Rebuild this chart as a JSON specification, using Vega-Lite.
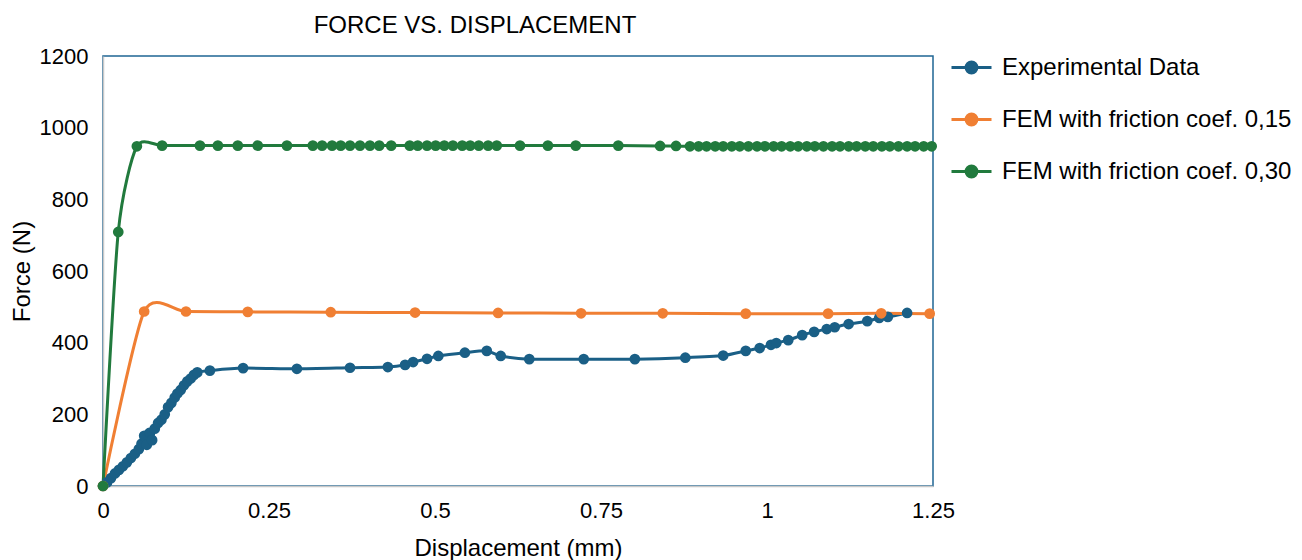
{
  "$schema": "https://vega.github.io/schema/vega-lite/v6.json",
  "width": 830,
  "height": 430,
  "autosize": {"type": "none"},
  "padding": {"left": 103, "top": 56, "right": 369, "bottom": 74},
  "background": "white",
  "config": {
    "font": "Liberation Sans",
    "view": {"stroke": "#1f6594", "strokeWidth": 1.5},
    "axis": {"grid": false, "ticks": false, "domainColor": "#c8c8c8", "domainWidth": 1.5, "labelColor": "#000000", "titleColor": "#000000", "titleFontWeight": "normal", "labelFontSize": 22, "titleFontSize": 24, "labelFont": "Liberation Sans", "titleFont": "Liberation Sans"}
  },
  "title": {"text": "FORCE VS. DISPLACEMENT", "anchor": "middle", "dx": -43, "offset": 7, "fontSize": 24, "fontWeight": "normal", "font": "Liberation Sans", "color": "#000000"},
  "data": {"values": [
    {"series": "Experimental Data", "x": 0, "y": 0},
    {"series": "Experimental Data", "x": 0.006, "y": 10},
    {"series": "Experimental Data", "x": 0.012, "y": 22},
    {"series": "Experimental Data", "x": 0.018, "y": 35},
    {"series": "Experimental Data", "x": 0.024, "y": 45},
    {"series": "Experimental Data", "x": 0.03, "y": 55},
    {"series": "Experimental Data", "x": 0.036, "y": 66},
    {"series": "Experimental Data", "x": 0.042, "y": 78},
    {"series": "Experimental Data", "x": 0.048, "y": 90},
    {"series": "Experimental Data", "x": 0.054, "y": 103},
    {"series": "Experimental Data", "x": 0.058, "y": 118},
    {"series": "Experimental Data", "x": 0.062, "y": 140},
    {"series": "Experimental Data", "x": 0.066, "y": 115},
    {"series": "Experimental Data", "x": 0.07, "y": 148},
    {"series": "Experimental Data", "x": 0.074, "y": 128},
    {"series": "Experimental Data", "x": 0.078, "y": 160},
    {"series": "Experimental Data", "x": 0.083, "y": 176},
    {"series": "Experimental Data", "x": 0.088, "y": 185},
    {"series": "Experimental Data", "x": 0.093, "y": 200},
    {"series": "Experimental Data", "x": 0.098, "y": 220},
    {"series": "Experimental Data", "x": 0.103, "y": 232},
    {"series": "Experimental Data", "x": 0.108, "y": 247},
    {"series": "Experimental Data", "x": 0.112, "y": 258},
    {"series": "Experimental Data", "x": 0.117, "y": 268},
    {"series": "Experimental Data", "x": 0.122, "y": 281},
    {"series": "Experimental Data", "x": 0.127, "y": 292},
    {"series": "Experimental Data", "x": 0.132, "y": 300},
    {"series": "Experimental Data", "x": 0.137, "y": 310},
    {"series": "Experimental Data", "x": 0.142, "y": 317},
    {"series": "Experimental Data", "x": 0.161, "y": 322},
    {"series": "Experimental Data", "x": 0.211, "y": 329},
    {"series": "Experimental Data", "x": 0.292, "y": 327},
    {"series": "Experimental Data", "x": 0.372, "y": 330},
    {"series": "Experimental Data", "x": 0.429, "y": 332},
    {"series": "Experimental Data", "x": 0.455, "y": 338},
    {"series": "Experimental Data", "x": 0.467, "y": 346},
    {"series": "Experimental Data", "x": 0.488, "y": 355},
    {"series": "Experimental Data", "x": 0.505, "y": 363},
    {"series": "Experimental Data", "x": 0.545, "y": 372},
    {"series": "Experimental Data", "x": 0.578, "y": 377},
    {"series": "Experimental Data", "x": 0.599, "y": 363},
    {"series": "Experimental Data", "x": 0.642, "y": 354},
    {"series": "Experimental Data", "x": 0.724, "y": 354},
    {"series": "Experimental Data", "x": 0.801, "y": 354},
    {"series": "Experimental Data", "x": 0.877, "y": 358},
    {"series": "Experimental Data", "x": 0.934, "y": 364},
    {"series": "Experimental Data", "x": 0.968, "y": 377},
    {"series": "Experimental Data", "x": 0.989, "y": 385},
    {"series": "Experimental Data", "x": 1.006, "y": 394},
    {"series": "Experimental Data", "x": 1.014, "y": 399},
    {"series": "Experimental Data", "x": 1.032, "y": 407},
    {"series": "Experimental Data", "x": 1.053, "y": 421},
    {"series": "Experimental Data", "x": 1.071, "y": 430},
    {"series": "Experimental Data", "x": 1.09, "y": 438},
    {"series": "Experimental Data", "x": 1.102, "y": 443},
    {"series": "Experimental Data", "x": 1.123, "y": 452},
    {"series": "Experimental Data", "x": 1.151, "y": 460},
    {"series": "Experimental Data", "x": 1.169, "y": 469},
    {"series": "Experimental Data", "x": 1.182, "y": 472},
    {"series": "Experimental Data", "x": 1.211, "y": 483},
    {"series": "FEM with friction coef. 0,15", "x": 0, "y": 0},
    {"series": "FEM with friction coef. 0,15", "x": 0.062, "y": 487},
    {"series": "FEM with friction coef. 0,15", "x": 0.125, "y": 487},
    {"series": "FEM with friction coef. 0,15", "x": 0.218, "y": 486},
    {"series": "FEM with friction coef. 0,15", "x": 0.343, "y": 485},
    {"series": "FEM with friction coef. 0,15", "x": 0.47, "y": 484},
    {"series": "FEM with friction coef. 0,15", "x": 0.595, "y": 483},
    {"series": "FEM with friction coef. 0,15", "x": 0.72, "y": 482},
    {"series": "FEM with friction coef. 0,15", "x": 0.843, "y": 482},
    {"series": "FEM with friction coef. 0,15", "x": 0.968, "y": 481},
    {"series": "FEM with friction coef. 0,15", "x": 1.092, "y": 481},
    {"series": "FEM with friction coef. 0,15", "x": 1.172, "y": 482},
    {"series": "FEM with friction coef. 0,15", "x": 1.245, "y": 481},
    {"series": "FEM with friction coef. 0,30", "x": 0, "y": 0},
    {"series": "FEM with friction coef. 0,30", "x": 0.023, "y": 709},
    {"series": "FEM with friction coef. 0,30", "x": 0.051, "y": 948},
    {"series": "FEM with friction coef. 0,30", "x": 0.089, "y": 950},
    {"series": "FEM with friction coef. 0,30", "x": 0.146, "y": 950},
    {"series": "FEM with friction coef. 0,30", "x": 0.173, "y": 950},
    {"series": "FEM with friction coef. 0,30", "x": 0.203, "y": 950},
    {"series": "FEM with friction coef. 0,30", "x": 0.233, "y": 950},
    {"series": "FEM with friction coef. 0,30", "x": 0.277, "y": 950},
    {"series": "FEM with friction coef. 0,30", "x": 0.316, "y": 950},
    {"series": "FEM with friction coef. 0,30", "x": 0.33, "y": 950},
    {"series": "FEM with friction coef. 0,30", "x": 0.345, "y": 950},
    {"series": "FEM with friction coef. 0,30", "x": 0.358, "y": 950},
    {"series": "FEM with friction coef. 0,30", "x": 0.372, "y": 950},
    {"series": "FEM with friction coef. 0,30", "x": 0.387, "y": 950},
    {"series": "FEM with friction coef. 0,30", "x": 0.402, "y": 950},
    {"series": "FEM with friction coef. 0,30", "x": 0.416, "y": 950},
    {"series": "FEM with friction coef. 0,30", "x": 0.434, "y": 950},
    {"series": "FEM with friction coef. 0,30", "x": 0.462, "y": 950},
    {"series": "FEM with friction coef. 0,30", "x": 0.474, "y": 950},
    {"series": "FEM with friction coef. 0,30", "x": 0.488, "y": 950},
    {"series": "FEM with friction coef. 0,30", "x": 0.501, "y": 950},
    {"series": "FEM with friction coef. 0,30", "x": 0.514, "y": 950},
    {"series": "FEM with friction coef. 0,30", "x": 0.527, "y": 950},
    {"series": "FEM with friction coef. 0,30", "x": 0.541, "y": 950},
    {"series": "FEM with friction coef. 0,30", "x": 0.553, "y": 950},
    {"series": "FEM with friction coef. 0,30", "x": 0.566, "y": 950},
    {"series": "FEM with friction coef. 0,30", "x": 0.58, "y": 950},
    {"series": "FEM with friction coef. 0,30", "x": 0.593, "y": 950},
    {"series": "FEM with friction coef. 0,30", "x": 0.628, "y": 950},
    {"series": "FEM with friction coef. 0,30", "x": 0.67, "y": 950},
    {"series": "FEM with friction coef. 0,30", "x": 0.712, "y": 950},
    {"series": "FEM with friction coef. 0,30", "x": 0.776, "y": 950},
    {"series": "FEM with friction coef. 0,30", "x": 0.839, "y": 949},
    {"series": "FEM with friction coef. 0,30", "x": 0.863, "y": 949},
    {"series": "FEM with friction coef. 0,30", "x": 0.884, "y": 948},
    {"series": "FEM with friction coef. 0,30", "x": 0.897, "y": 948},
    {"series": "FEM with friction coef. 0,30", "x": 0.909, "y": 948},
    {"series": "FEM with friction coef. 0,30", "x": 0.922, "y": 948},
    {"series": "FEM with friction coef. 0,30", "x": 0.934, "y": 948},
    {"series": "FEM with friction coef. 0,30", "x": 0.947, "y": 948},
    {"series": "FEM with friction coef. 0,30", "x": 0.959, "y": 948},
    {"series": "FEM with friction coef. 0,30", "x": 0.972, "y": 948},
    {"series": "FEM with friction coef. 0,30", "x": 0.985, "y": 948},
    {"series": "FEM with friction coef. 0,30", "x": 0.997, "y": 948},
    {"series": "FEM with friction coef. 0,30", "x": 1.01, "y": 948},
    {"series": "FEM with friction coef. 0,30", "x": 1.022, "y": 948},
    {"series": "FEM with friction coef. 0,30", "x": 1.035, "y": 948},
    {"series": "FEM with friction coef. 0,30", "x": 1.047, "y": 948},
    {"series": "FEM with friction coef. 0,30", "x": 1.06, "y": 948},
    {"series": "FEM with friction coef. 0,30", "x": 1.072, "y": 948},
    {"series": "FEM with friction coef. 0,30", "x": 1.085, "y": 948},
    {"series": "FEM with friction coef. 0,30", "x": 1.098, "y": 948},
    {"series": "FEM with friction coef. 0,30", "x": 1.11, "y": 948},
    {"series": "FEM with friction coef. 0,30", "x": 1.123, "y": 948},
    {"series": "FEM with friction coef. 0,30", "x": 1.135, "y": 948},
    {"series": "FEM with friction coef. 0,30", "x": 1.148, "y": 948},
    {"series": "FEM with friction coef. 0,30", "x": 1.16, "y": 948},
    {"series": "FEM with friction coef. 0,30", "x": 1.173, "y": 948},
    {"series": "FEM with friction coef. 0,30", "x": 1.185, "y": 948},
    {"series": "FEM with friction coef. 0,30", "x": 1.198, "y": 948},
    {"series": "FEM with friction coef. 0,30", "x": 1.211, "y": 948},
    {"series": "FEM with friction coef. 0,30", "x": 1.223, "y": 948},
    {"series": "FEM with friction coef. 0,30", "x": 1.236, "y": 948},
    {"series": "FEM with friction coef. 0,30", "x": 1.248, "y": 948}
  ]},
  "mark": {"type": "line", "interpolate": "cardinal", "tension": 0.3, "strokeWidth": 3, "point": {"filled": true, "size": 115, "opacity": 1}},
  "encoding": {
    "x": {"field": "x", "type": "quantitative", "scale": {"domain": [0, 1.25], "nice": false, "zero": true}, "axis": {"title": "Displacement (mm)", "values": [0, 0.25, 0.5, 0.75, 1, 1.25], "format": ".3~g", "labelPadding": 14, "titleY": 62, "titleBaseline": "middle", "labelFlush": false, "labelOverlap": false}},
    "y": {"field": "y", "type": "quantitative", "scale": {"domain": [0, 1200], "nice": false}, "axis": {"title": "Force (N)", "values": [0, 200, 400, 600, 800, 1000, 1200], "format": "d", "labelPadding": 15, "titleX": -81, "titleY": 215, "titleAngle": -90, "titleBaseline": "middle", "titleAlign": "center", "labelFlush": false, "labelOverlap": false}},
    "color": {"field": "series", "type": "nominal", "sort": ["Experimental Data", "FEM with friction coef. 0,15", "FEM with friction coef. 0,30"],
      "scale": {"domain": ["Experimental Data", "FEM with friction coef. 0,15", "FEM with friction coef. 0,30"], "range": ["#1a5f86", "#f07f33", "#217a3d"]},
      "legend": {"title": null, "orient": "none", "legendX": 847, "legendY": -10, "symbolType": "M-1,0H1M-0.27,0A0.27,0.27 0 1,0 0.27,0A0.27,0.27 0 1,0 -0.27,0Z", "symbolSize": 1600, "symbolStrokeWidth": 3, "labelFontSize": 24, "labelFont": "Liberation Sans", "labelColor": "#000000", "labelOffset": 9, "rowPadding": 18, "labelLimit": 400,
        "encode": {"symbols": {"update": {"fill": {"scale": "color", "field": "value"}, "stroke": {"scale": "color", "field": "value"}, "opacity": {"value": 1}}}}}
    }
  }
}
